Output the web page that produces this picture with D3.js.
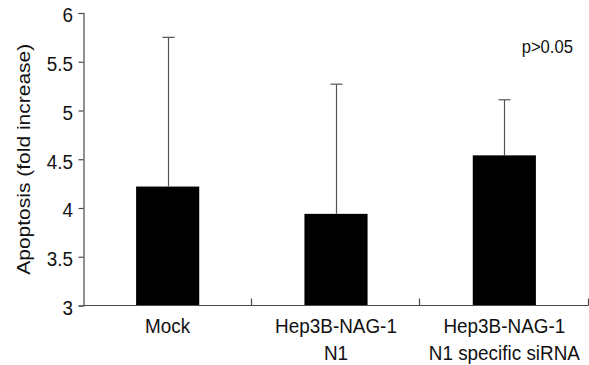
<!DOCTYPE html>
<html>
<head>
<meta charset="utf-8">
<script src="https://cdn.jsdelivr.net/npm/d3@7"></script>
<style>
  body { margin: 0; background: #fff; }
  svg { display: block; }
</style>
</head>
<body>
<div id="chart"></div>
<script>
// Data
const categories = ['Mock', 'Hep3B-NAG-1 N1', 'Hep3B-NAG-1 N1 specific siRNA'];
const labelLines = [['Mock'], ['Hep3B-NAG-1', 'N1'], ['Hep3B-NAG-1', 'N1 specific siRNA']];
const means = [4.22, 3.94, 4.54];
const upperErr = [5.75, 5.27, 5.11];
const yTicks = [3, 3.5, 4, 4.5, 5, 5.5, 6];
const yLabel = 'Apoptosis (fold increase)';
const note = 'p>0.05';

const width = 589;
const height = 365;
const font = "'Liberation Sans', Arial, sans-serif";
const axisColor = '#4a4a4a';
const textColor = '#111';
// the source figure is slightly squeezed horizontally
const squeeze = 0.9;

const svg = d3.select('#chart')
  .append('svg')
  .attr('width', width)
  .attr('height', height);

// Scales
const x = d3.scaleBand()
  .domain(categories)
  .range([83.5, 588.5])
  .paddingInner(0)
  .paddingOuter(0);

const xBar = d3.scaleBand()
  .domain(categories)
  .range([83.5, 588.5])
  .paddingInner(0.625)
  .paddingOuter(0.3125);

const y = d3.scaleLinear()
  .domain([3, 6])
  .range([305.5, 13]);

const barCenter = (d) => Math.round(xBar(d) + xBar.bandwidth() / 2) + 0.5;

// Bars
svg.append('g')
  .selectAll('rect')
  .data(categories)
  .join('rect')
  .attr('x', (d) => xBar(d))
  .attr('width', xBar.bandwidth())
  .attr('y', (d, i) => y(means[i]))
  .attr('height', (d, i) => y(3) - y(means[i]))
  .attr('fill', '#000');

// Error bars (upper only)
const err = svg.append('g')
  .attr('stroke', '#555')
  .attr('stroke-width', 1.2);

err.selectAll('line.stem')
  .data(categories)
  .join('line')
  .attr('class', 'stem')
  .attr('x1', barCenter)
  .attr('x2', barCenter)
  .attr('y1', (d, i) => y(means[i]))
  .attr('y2', (d, i) => y(upperErr[i]));

err.selectAll('line.cap')
  .data(categories)
  .join('line')
  .attr('class', 'cap')
  .attr('x1', (d) => barCenter(d) - 6)
  .attr('x2', (d) => barCenter(d) + 6)
  .attr('y1', (d, i) => y(upperErr[i]))
  .attr('y2', (d, i) => y(upperErr[i]));

// Y axis
const yAxis = svg.append('g')
  .attr('transform', 'translate(83.5,0)')
  .call(d3.axisLeft(y)
    .tickValues(yTicks)
    .tickFormat(d3.format('~g'))
    .tickSize(5)
    .tickPadding(5));

yAxis.select('.domain').attr('stroke', axisColor).attr('stroke-width', 1.2);
yAxis.selectAll('.tick line').attr('stroke', axisColor).attr('stroke-width', 1.2);
yAxis.selectAll('.tick text')
  .attr('fill', textColor)
  .attr('font-family', font)
  .attr('font-size', '21px')
  .attr('x', -10.5 / squeeze)
  .attr('dy', '0.37em')
  .attr('transform', `translate(0,1) scale(${squeeze},1)`);

// X axis: baseline plus upward ticks at band boundaries
const xAxis = svg.append('g')
  .attr('stroke', axisColor)
  .attr('stroke-width', 1.2);

xAxis.append('line')
  .attr('x1', x.range()[0])
  .attr('x2', x.range()[1])
  .attr('y1', y(3))
  .attr('y2', y(3));

const boundaries = categories.map((c) => Math.round(x(c) + x.bandwidth()));
xAxis.selectAll('line.tick')
  .data(boundaries)
  .join('line')
  .attr('class', 'tick')
  .attr('x1', (d) => d - 0.5)
  .attr('x2', (d) => d - 0.5)
  .attr('y1', y(3))
  .attr('y2', y(3) - 7);

// Category labels
const xLabels = svg.append('g')
  .attr('font-family', font)
  .attr('font-size', '21px')
  .attr('fill', textColor)
  .attr('text-anchor', 'middle')
  .selectAll('g')
  .data(categories)
  .join('g')
  .attr('transform', (d) => `translate(${x(d) + x.bandwidth() / 2},333) scale(${squeeze},1)`);

xLabels.append('text')
  .each(function (d, i) {
    d3.select(this).selectAll('tspan')
      .data(labelLines[i])
      .join('tspan')
      .attr('x', 0)
      .attr('dy', (t, j) => j === 0 ? 0 : 27)
      .text((t) => t);
  });

// Y axis title
svg.append('text')
  .attr('transform', `translate(30,${(y(3) + y(6)) / 2}) scale(${squeeze},1) rotate(-90)`)
  .attr('text-anchor', 'middle')
  .attr('font-family', font)
  .attr('font-size', '21px')
  .attr('fill', textColor)
  .text(yLabel);

// Significance note
svg.append('text')
  .attr('transform', `translate(573,53) scale(${squeeze},1)`)
  .attr('text-anchor', 'end')
  .attr('font-family', font)
  .attr('font-size', '18.5px')
  .attr('fill', textColor)
  .text(note);
</script>
</body>
</html>
